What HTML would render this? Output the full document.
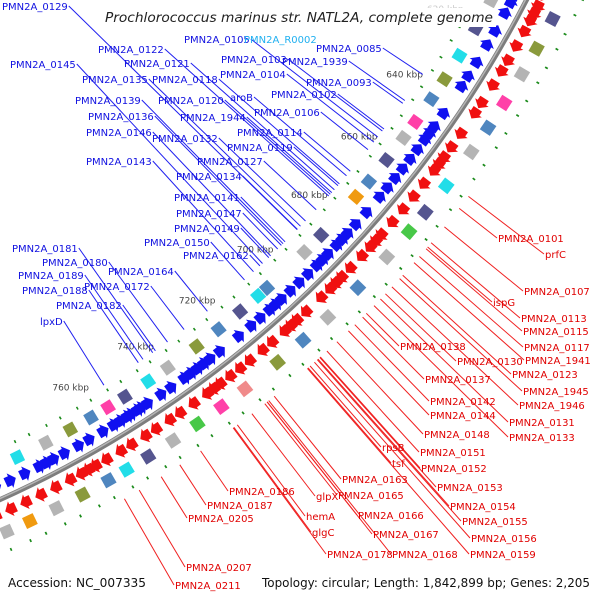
<!DOCTYPE html>
<html><head><meta charset="utf-8">
<style>
html,body{margin:0;padding:0;background:#fff;overflow:hidden;}
svg{display:block;font-family:"DejaVu Sans","Liberation Sans",sans-serif;}
</style></head>
<body>
<svg id="map" width="600" height="600" viewBox="0 0 600 600" xmlns="http://www.w3.org/2000/svg">
<g id="features"></g>
<circle cx="-453" cy="-505" r="1102" fill="none" stroke="#7d7d7d" stroke-width="5"/>
<circle cx="-453" cy="-505" r="1101" fill="none" stroke="#b5b5b5" stroke-width="1.5"/>
<g id="lines"></g>
<g id="labels"></g>
<rect x="102" y="8" width="394" height="19" fill="#fff"/>
<text x="105" y="22" textLength="388" lengthAdjust="spacingAndGlyphs" font-size="13" font-style="italic" fill="#222">Prochlorococcus marinus str. NATL2A, complete genome</text>
<text x="8" y="587" textLength="138" lengthAdjust="spacingAndGlyphs" font-size="12.5" fill="#111">Accession: NC_007335</text>
<text x="262" y="587" textLength="328" lengthAdjust="spacingAndGlyphs" font-size="12.5" fill="#111">Topology: circular; Length: 1,842,899 bp; Genes: 2,205</text>
</svg>
<script>
const tickKbp=[620,640,660,680,700,720,740,760];
const reverseGenes=[603,605,607,609,612,617,621,626,630,633,641,645,647,649,652,655,658,661,664,667,672,676,679,681,683,686,688,690,693,696,699,702,704,706,709,712,716,722,725,727,729,731,733,737,740,744,746,747,749,750,752,754,757,761,764,768,771,773,775,779,783,787,792,796];
const forwardGenes=[601,604,607,609,611,614,618,622,625,629,634,637,643,647,650,652,654,658,662,666,670,674,676,678,681,685,688,690,692,695,700,703,705,707,711,714,718,721,724,727,729,731,735,739,742,746,749,753,756,760,763,765,767,770,774,778,782,786,790,794];
const innerBlocks=[605,611,619,627,634,640,647,652,659,666,671,684,690,703,706,712,719,726,735,741,748,753,758,764,771,779,786,793];
const innerColors=[0,1,2,3,4,0,5,1,2,0,6,2,1,0,3,2,0,4,1,3,2,5,0,4,1,3,2,0];
const outerBlocks=[608,616,623,631,638,645,655,663,669,677,687,697,705,713,723,730,737,744,751,757,762,769,776,783,789,796];
const outerColors=[2,4,1,5,0,1,3,2,7,1,0,1,0,4,8,5,7,1,2,3,0,4,1,6,1,3];
const greenInner=[604,608,613,617,622,626,631,635,640,644,649,653,658,662,667,671,676,680,685,689,694,698,703,707,712,716,721,725,730,734,739,743,748,752,757,761,766,770,775,779,784,788,793,797];
const greenOuter=[602,606,611,615,620,624,629,633,638,642,647,651,656,660,665,669,674,678,683,687,692,696,701,705,710,714,719,723,728,732,737,741,746,750,755,759,764,768,773,777,782,786,791,795];
const palette=['#4f86bf','#b4b4b4','#55558f','#22dde8','#8a9a3c','#ff40a8','#f09a10','#48c848','#f08a8a'];
const blueLabels=[["PMN2A_0129",2,10],["PMN2A_0105",184,43],["PMN2A_0085",316,52],["PMN2A_0122",98,53],["PMN2A_0103",221,63],["PMN2A_1939",282,65],["PMN2A_0145",10,68],["PMN2A_0121",124,67],["PMN2A_0104",220,78],["PMN2A_0135",82,83],["PMN2A_0118",152,83],["PMN2A_0093",306,86],["PMN2A_0139",75,104],["PMN2A_0120",158,104],["aroB",230,101],["PMN2A_0102",271,98],["PMN2A_0136",88,120],["PMN2A_1944",180,121],["PMN2A_0106",254,116],["PMN2A_0146",86,136],["PMN2A_0132",152,142],["PMN2A_0114",237,136],["PMN2A_0119",227,151],["PMN2A_0143",86,165],["PMN2A_0127",197,165],["PMN2A_0134",176,180],["PMN2A_0141",174,201],["PMN2A_0147",176,217],["PMN2A_0149",174,232],["PMN2A_0150",144,246],["PMN2A_0162",183,259],["PMN2A_0181",12,252],["PMN2A_0180",42,266],["PMN2A_0164",108,275],["PMN2A_0189",18,279],["PMN2A_0172",84,290],["PMN2A_0188",22,294],["PMN2A_0182",56,309],["lpxD",40,325]];
const redLabels=[["PMN2A_0101",498,242],["prfC",545,258],["PMN2A_0107",524,295],["ispG",493,306],["PMN2A_0113",521,322],["PMN2A_0115",523,335],["PMN2A_0117",524,351],["PMN2A_0138",400,350],["PMN2A_0130",457,365],["PMN2A_1941",525,364],["PMN2A_0123",512,378],["PMN2A_0137",425,383],["PMN2A_1945",523,395],["PMN2A_0142",430,405],["PMN2A_1946",519,409],["PMN2A_0144",430,419],["PMN2A_0131",509,426],["PMN2A_0148",424,438],["PMN2A_0133",509,441],["rpsB",382,451],["PMN2A_0151",420,456],["tsf",392,467],["PMN2A_0152",421,472],["PMN2A_0163",342,483],["PMN2A_0153",437,491],["PMN2A_0186",229,495],["glpX",316,500],["PMN2A_0165",338,499],["PMN2A_0187",207,509],["PMN2A_0154",450,510],["PMN2A_0205",188,522],["hemA",306,520],["PMN2A_0166",358,519],["PMN2A_0155",462,525],["glgC",312,536],["PMN2A_0167",373,538],["PMN2A_0156",471,542],["PMN2A_0178",327,558],["PMN2A_0168",392,558],["PMN2A_0159",470,558],["PMN2A_0207",186,571],["PMN2A_0211",175,589]];

const NS='http://www.w3.org/2000/svg';
const cx=-453, cy=-505, R=1102;
function ang(k){return 34.04+(k-640)*0.213;}
function pt(k,r){const a=ang(k)*Math.PI/180;return [cx+r*Math.cos(a),cy+r*Math.sin(a)];}
function radialTo(x,y,r){const a=Math.atan2(y-cy,x-cx);return [cx+r*Math.cos(a),cy+r*Math.sin(a)];}
function poly(pts){return pts.map(p=>p[0].toFixed(1)+','+p[1].toFixed(1)).join(' ');}
const feat=document.getElementById('features');
const linesG=document.getElementById('lines');
const labG=document.getElementById('labels');
function mk(tag,attrs,parent){const e=document.createElementNS(NS,tag);for(const k in attrs)e.setAttribute(k,attrs[k]);parent.appendChild(e);return e;}

reverseGenes.forEach(s=>{
  const e=s+2.8, r=R-13;
  const p=mk('polygon',{points:poly([pt(e,r-5),pt(s+1.6,r-5),pt(s+1.6,r-8),pt(s,r),pt(s+1.6,r+8),pt(s+1.6,r+5),pt(e,r+5)]),fill:'#1010f0'},feat);
  
  
});
forwardGenes.forEach(s=>{
  const e=s+2.8, r=R+13;
  const p=mk('polygon',{points:poly([pt(s,r-5),pt(e-1.6,r-5),pt(e-1.6,r-8),pt(e,r),pt(e-1.6,r+8),pt(e-1.6,r+5),pt(s,r+5)]),fill:'#f01010'},feat);
  
  
});
innerBlocks.forEach((s,i)=>{
  const r=R-31;
  const p=mk('polygon',{points:poly([pt(s,r-6),pt(s+2.8,r-6),pt(s+2.8,r+6),pt(s,r+6)]),fill:palette[innerColors[i]]},feat);
  
  
});
outerBlocks.forEach((s,i)=>{
  const r=R+32;
  const p=mk('polygon',{points:poly([pt(s,r-6),pt(s+2.8,r-6),pt(s+2.8,r+6),pt(s,r+6)]),fill:palette[outerColors[i]]},feat);
  
  
});
greenInner.forEach(s=>{
  const r=R-46;
  const p=mk('polygon',{points:poly([pt(s,r-1.5),pt(s+0.4,r-1.5),pt(s+0.4,r+1.5),pt(s,r+1.5)]),fill:'#1a8a1a'},feat);
  
  
});
greenOuter.forEach(s=>{
  const r=R+50;
  const p=mk('polygon',{points:poly([pt(s,r-1.5),pt(s+0.4,r-1.5),pt(s+0.4,r+1.5),pt(s,r+1.5)]),fill:'#1a8a1a'},feat);
  
  
});
tickKbp.forEach(k=>{
  const [x,y]=pt(k,R-67);
  const t=mk('text',{x:x.toFixed(1),y:(y+3).toFixed(1),'text-anchor':'middle','font-size':'9',fill:k===620?'#ccc':'#444'},feat);
  t.textContent=k+' kbp';
  
  
});
blueLabels.forEach(L=>{
  const t=mk('text',{x:L[1],y:L[2],'font-size':'10',fill:'#1010e0'},labG);
  t.textContent=L[0];
  
  
  const w=t.getComputedTextLength();
  const x1=L[1]+w+1, y1=L[2]-4;
  const [x,y]=radialTo(x1,y1,R-52);
  const l=mk('line',{x1:x1,y1:y1,x2:x.toFixed(1),y2:y.toFixed(1),stroke:'#2020f0','stroke-width':'1'},linesG);
  
  
});
{
  const t=mk('text',{x:244,y:43,'font-size':'10',fill:'#20b0f0'},labG);
  t.textContent='PMN2A_R0002';
  
  
}
redLabels.forEach(L=>{
  const t=mk('text',{x:L[1],y:L[2],'font-size':'10',fill:'#e00000'},labG);
  t.textContent=L[0];
  
  
  const x1=L[1]-1, y1=L[2]-4;
  const [x,y]=radialTo(x1,y1,R+56);
  const l=mk('line',{x1:x1,y1:y1,x2:x.toFixed(1),y2:y.toFixed(1),stroke:'#f02020','stroke-width':'1'},linesG);
  
  
});
</script>
</body></html>
